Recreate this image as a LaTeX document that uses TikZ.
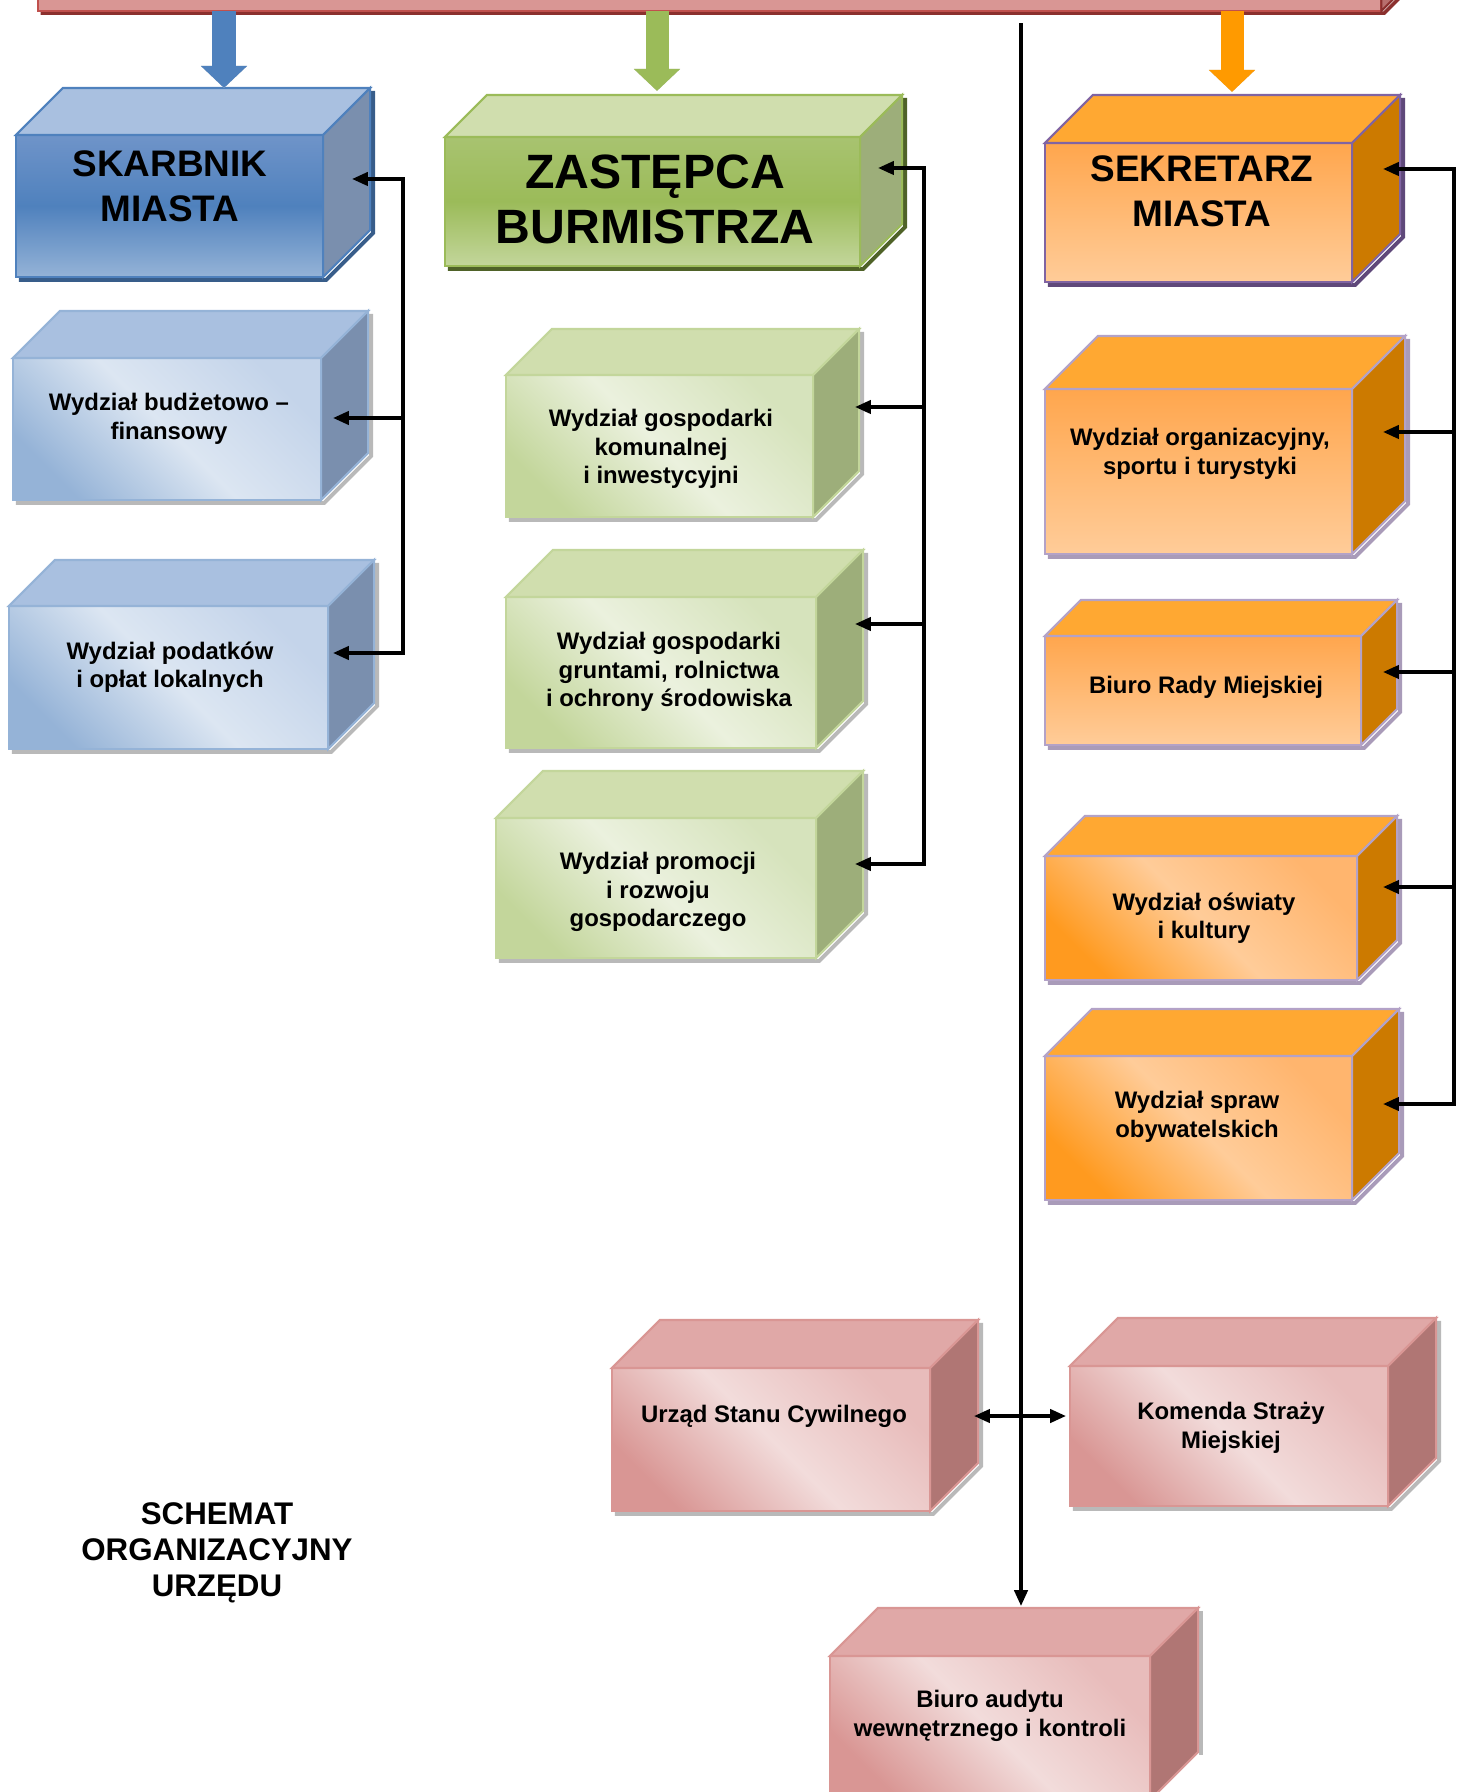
\documentclass[tikz,border=0pt]{standalone}
\usepackage{fontspec}
\setmainfont{Liberation Sans}
\usetikzlibrary{calc,arrows.meta,backgrounds}
\definecolor{redfront}{HTML}{D99694}
\definecolor{redline}{HTML}{C0504D}
\definecolor{reddark}{HTML}{8B302E}
\definecolor{redsidec}{HTML}{B86F6D}
\definecolor{bluemain}{HTML}{4F81BD}
\definecolor{blueup}{HTML}{6F94C9}
\definecolor{bluelight}{HTML}{95B3D7}
\definecolor{bluepale}{HTML}{DCE6F2}
\definecolor{bluecorner}{HTML}{C4D4EA}
\definecolor{bluetopc}{HTML}{A9C0E0}
\definecolor{bluesidec}{HTML}{7A8FAE}
\definecolor{bluedark}{HTML}{385D8A}
\definecolor{greenmain}{HTML}{9BBB59}
\definecolor{greenup}{HTML}{A8C370}
\definecolor{greenlight}{HTML}{C3D69B}
\definecolor{greenpale}{HTML}{EBF1DE}
\definecolor{greencorner}{HTML}{D6E3BC}
\definecolor{greentopc}{HTML}{D0DEAE}
\definecolor{greensidec}{HTML}{9DAE7A}
\definecolor{greendark}{HTML}{4F6228}
\definecolor{orangemain}{HTML}{FF9A00}
\definecolor{orangeup}{HTML}{FFA64D}
\definecolor{orangepale}{HTML}{FFCC99}
\definecolor{orangedeep}{HTML}{FF9A1F}
\definecolor{orangecorner}{HTML}{FFB56E}
\definecolor{orangetopc}{HTML}{FFA832}
\definecolor{orangesidec}{HTML}{CC7A00}
\definecolor{purpleline}{HTML}{8064A2}
\definecolor{lavender}{HTML}{B3A2C7}
\definecolor{purpledark}{HTML}{5F497A}
\definecolor{pinkpale}{HTML}{F2DCDB}
\definecolor{pinkcorner}{HTML}{E8BCBB}
\definecolor{pinktopc}{HTML}{E0A8A7}
\definecolor{pinksidec}{HTML}{B07674}

\begin{document}
\begin{tikzpicture}%
	[x={(0.01cm, 0cm)},
	y={(0cm, -0.01cm)},
	every node/.style={inner sep=0pt, outer sep=0pt},
	redbar/.style={fill=redfront, draw=redline, line width=0.6pt},
	redside/.style={fill=redsidec, draw=reddark, line width=0.6pt},
	redshadow/.style={draw=reddark, line width=1pt},
	bluebig/.style={draw=bluemain, line width=0.6pt, top color=blueup, bottom color=bluelight, middle color=bluemain},
	bluebox/.style={draw=bluelight, line width=0.6pt, top color=bluecorner, bottom color=bluelight, middle color=bluepale, shading angle=-45},
	bluetop/.style={fill=bluetopc, draw=bluelight, line width=0.6pt},
	blueside/.style={fill=bluesidec, draw=bluelight, line width=0.6pt},
	blueshadow/.style={draw=bluedark, line width=1.1pt},
	greenbig/.style={draw=greenmain, line width=0.6pt, top color=greenup, bottom color=greenlight, middle color=greenmain},
	greenbox/.style={draw=greenlight, line width=0.6pt, top color=greencorner, bottom color=greenlight, middle color=greenpale, shading angle=-45},
	greentop/.style={fill=greentopc, draw=greenlight, line width=0.6pt},
	greenside/.style={fill=greensidec, draw=greenlight, line width=0.6pt},
	greenshadow/.style={draw=greendark, line width=1.1pt},
	orangebig/.style={draw=purpleline, line width=0.6pt, top color=orangeup, bottom color=orangepale},
	orangeflat/.style={draw=lavender, line width=0.6pt, top color=orangeup, bottom color=orangepale},
	orangebox/.style={draw=lavender, line width=0.6pt, top color=orangecorner, bottom color=orangedeep, middle color=orangepale, shading angle=-45},
	orangetop/.style={fill=orangetopc, draw=lavender, line width=0.6pt},
	orangeside/.style={fill=orangesidec, draw=lavender, line width=0.6pt},
	orangeshadow/.style={draw=purpledark, line width=1.1pt},
	pinkbox/.style={draw=redfront, line width=0.6pt, top color=pinkcorner, bottom color=redfront, middle color=pinkpale, shading angle=-45},
	pinktop/.style={fill=pinktopc, draw=redfront, line width=0.6pt},
	pinkside/.style={fill=pinksidec, draw=redfront, line width=0.6pt},
	boxshadow/.style={draw=gray!55, line width=1.1pt},
	smalltext/.style={align=center, font=\fontsize{6.8}{8.1}\selectfont\bfseries},
	bigtext/.style={align=center, font=\fontsize{10.5}{12.8}\selectfont\bfseries},
	hugetext/.style={align=center, font=\fontsize{13.7}{15.6}\selectfont\bfseries},
	titletext/.style={align=center, font=\fontsize{8.9}{10.25}\selectfont\bfseries},
	spine/.style={line width=0.9pt, line cap=rect},
	conn/.style={line width=0.9pt, line cap=rect, -{Triangle[length=4.5pt,width=3.8pt]}},
	twoway/.style={line width=0.9pt, {Triangle[length=4.5pt,width=3.8pt]}-{Triangle[length=4.5pt,width=3.8pt]}},
	bigarrow/.style={line width=0.23cm, -{Triangle[length=0.22cm,width=0.45cm]}},
	arrowshade/.style={bigarrow, draw=gray!40, xshift=0.03cm}]
%
\useasboundingbox (0,0) rectangle (1463,1792);
%%
%% Drawing the top bar
%%
\node[redbar, minimum width=13.43cm, minimum height=1.02cm] (bar) at (709.5,-40) {};
\draw[redside] (bar.north east) -- ++(40,-40) -- ($(bar.south east)+(40,-40)$) -- (bar.south east) -- cycle;
%%
%% Drawing the front faces
%%
\node[bluebig, minimum width=3.07cm, minimum height=1.42cm] (skarbnik) at (169.5,206) {};
\node[bluebox, minimum width=3.08cm, minimum height=1.42cm] (budzet) at (167,429) {};
\node[bluebox, minimum width=3.19cm, minimum height=1.43cm] (podatki) at (168.5,677.5) {};
\node[greenbig, minimum width=4.15cm, minimum height=1.29cm] (zastepca) at (652.5,201.5) {};
\node[greenbox, minimum width=3.07cm, minimum height=1.42cm] (komunalna) at (659.5,446) {};
\node[greenbox, minimum width=3.10cm, minimum height=1.51cm] (grunty) at (661,672.5) {};
\node[greenbox, minimum width=3.20cm, minimum height=1.40cm] (promocja) at (656,888) {};
\node[orangebig, minimum width=3.07cm, minimum height=1.39cm] (sekretarz) at (1198.5,212.5) {};
\node[orangeflat, minimum width=3.07cm, minimum height=1.65cm] (organizacja) at (1198.5,471.5) {};
\node[orangeflat, minimum width=3.16cm, minimum height=1.09cm] (rada) at (1203,690.5) {};
\node[orangebox, minimum width=3.12cm, minimum height=1.24cm] (oswiata) at (1201,918) {};
\node[orangebox, minimum width=3.07cm, minimum height=1.44cm] (sprawy) at (1198.5,1128) {};
\node[pinkbox, minimum width=3.18cm, minimum height=1.43cm] (usc) at (771,1439.5) {};
\node[pinkbox, minimum width=3.18cm, minimum height=1.40cm] (komenda) at (1229,1436) {};
\node[pinkbox, minimum width=3.20cm, minimum height=1.44cm] (audyt) at (990,1728) {};
%%
%% Drawing the top and side faces
%%
\draw[bluetop,draw=bluemain] (skarbnik.north west) -- ++(47,-47) -- ($(skarbnik.north east)+(47,-47)$) -- (skarbnik.north east) -- cycle;
\draw[blueside,draw=bluemain] (skarbnik.north east) -- ++(47,-47) -- ($(skarbnik.south east)+(47,-47)$) -- (skarbnik.south east) -- cycle;
\draw[bluetop] (budzet.north west) -- ++(47,-47) -- ($(budzet.north east)+(47,-47)$) -- (budzet.north east) -- cycle;
\draw[blueside] (budzet.north east) -- ++(47,-47) -- ($(budzet.south east)+(47,-47)$) -- (budzet.south east) -- cycle;
\draw[bluetop] (podatki.north west) -- ++(46,-46) -- ($(podatki.north east)+(46,-46)$) -- (podatki.north east) -- cycle;
\draw[blueside] (podatki.north east) -- ++(46,-46) -- ($(podatki.south east)+(46,-46)$) -- (podatki.south east) -- cycle;

\draw[greentop,draw=greenmain] (zastepca.north west) -- ++(42,-42) -- ($(zastepca.north east)+(42,-42)$) -- (zastepca.north east) -- cycle;
\draw[greenside,draw=greenmain] (zastepca.north east) -- ++(42,-42) -- ($(zastepca.south east)+(42,-42)$) -- (zastepca.south east) -- cycle;
\draw[greentop] (komunalna.north west) -- ++(46,-46) -- ($(komunalna.north east)+(46,-46)$) -- (komunalna.north east) -- cycle;
\draw[greenside] (komunalna.north east) -- ++(46,-46) -- ($(komunalna.south east)+(46,-46)$) -- (komunalna.south east) -- cycle;
\draw[greentop] (grunty.north west) -- ++(47,-47) -- ($(grunty.north east)+(47,-47)$) -- (grunty.north east) -- cycle;
\draw[greenside] (grunty.north east) -- ++(47,-47) -- ($(grunty.south east)+(47,-47)$) -- (grunty.south east) -- cycle;
\draw[greentop] (promocja.north west) -- ++(47,-47) -- ($(promocja.north east)+(47,-47)$) -- (promocja.north east) -- cycle;
\draw[greenside] (promocja.north east) -- ++(47,-47) -- ($(promocja.south east)+(47,-47)$) -- (promocja.south east) -- cycle;

\draw[orangetop,draw=purpleline] (sekretarz.north west) -- ++(48,-48) -- ($(sekretarz.north east)+(48,-48)$) -- (sekretarz.north east) -- cycle;
\draw[orangeside,draw=purpleline] (sekretarz.north east) -- ++(48,-48) -- ($(sekretarz.south east)+(48,-48)$) -- (sekretarz.south east) -- cycle;
\draw[orangetop] (organizacja.north west) -- ++(53,-53) -- ($(organizacja.north east)+(53,-53)$) -- (organizacja.north east) -- cycle;
\draw[orangeside] (organizacja.north east) -- ++(53,-53) -- ($(organizacja.south east)+(53,-53)$) -- (organizacja.south east) -- cycle;
\draw[orangetop] (rada.north west) -- ++(36,-36) -- ($(rada.north east)+(36,-36)$) -- (rada.north east) -- cycle;
\draw[orangeside] (rada.north east) -- ++(36,-36) -- ($(rada.south east)+(36,-36)$) -- (rada.south east) -- cycle;
\draw[orangetop] (oswiata.north west) -- ++(40,-40) -- ($(oswiata.north east)+(40,-40)$) -- (oswiata.north east) -- cycle;
\draw[orangeside] (oswiata.north east) -- ++(40,-40) -- ($(oswiata.south east)+(40,-40)$) -- (oswiata.south east) -- cycle;
\draw[orangetop] (sprawy.north west) -- ++(47,-47) -- ($(sprawy.north east)+(47,-47)$) -- (sprawy.north east) -- cycle;
\draw[orangeside] (sprawy.north east) -- ++(47,-47) -- ($(sprawy.south east)+(47,-47)$) -- (sprawy.south east) -- cycle;

\draw[pinktop] (usc.north west) -- ++(48,-48) -- ($(usc.north east)+(48,-48)$) -- (usc.north east) -- cycle;
\draw[pinkside] (usc.north east) -- ++(48,-48) -- ($(usc.south east)+(48,-48)$) -- (usc.south east) -- cycle;
\draw[pinktop] (komenda.north west) -- ++(48,-48) -- ($(komenda.north east)+(48,-48)$) -- (komenda.north east) -- cycle;
\draw[pinkside] (komenda.north east) -- ++(48,-48) -- ($(komenda.south east)+(48,-48)$) -- (komenda.south east) -- cycle;
\draw[pinktop] (audyt.north west) -- ++(48,-48) -- ($(audyt.north east)+(48,-48)$) -- (audyt.north east) -- cycle;
\draw[pinkside] (audyt.north east) -- ++(48,-48) -- ($(audyt.south east)+(48,-48)$) -- (audyt.south east) -- cycle;
%%
%% Drawing the shadows in the back
%%
\begin{scope}[on background layer]
\draw[redshadow] ($(bar.south west)+(3,2)$) -- ($(bar.south east)+(3,2)$) -- ++(40,-40);
\draw[blueshadow] ($(skarbnik.south west)+(3,3)$) -- ($(skarbnik.south east)+(3,3)$) -- ($(skarbnik.south east)+(50,-44)$) -- ($(skarbnik.north east)+(50,-44)$);
\draw[boxshadow] ($(budzet.south west)+(3,3)$) -- ($(budzet.south east)+(3,3)$) -- ($(budzet.south east)+(50,-44)$) -- ($(budzet.north east)+(50,-44)$);
\draw[boxshadow] ($(podatki.south west)+(3,3)$) -- ($(podatki.south east)+(3,3)$) -- ($(podatki.south east)+(49,-43)$) -- ($(podatki.north east)+(49,-43)$);
\draw[greenshadow] ($(zastepca.south west)+(3,3)$) -- ($(zastepca.south east)+(3,3)$) -- ($(zastepca.south east)+(45,-39)$) -- ($(zastepca.north east)+(45,-39)$);
\draw[boxshadow] ($(komunalna.south west)+(3,3)$) -- ($(komunalna.south east)+(3,3)$) -- ($(komunalna.south east)+(49,-43)$) -- ($(komunalna.north east)+(49,-43)$);
\draw[boxshadow] ($(grunty.south west)+(3,3)$) -- ($(grunty.south east)+(3,3)$) -- ($(grunty.south east)+(50,-44)$) -- ($(grunty.north east)+(50,-44)$);
\draw[boxshadow] ($(promocja.south west)+(3,3)$) -- ($(promocja.south east)+(3,3)$) -- ($(promocja.south east)+(50,-44)$) -- ($(promocja.north east)+(50,-44)$);
\draw[orangeshadow] ($(sekretarz.south west)+(3,3)$) -- ($(sekretarz.south east)+(3,3)$) -- ($(sekretarz.south east)+(51,-45)$) -- ($(sekretarz.north east)+(51,-45)$);
\draw[boxshadow,draw=lavender!80!gray] ($(organizacja.south west)+(3,3)$) -- ($(organizacja.south east)+(3,3)$) -- ($(organizacja.south east)+(56,-50)$) -- ($(organizacja.north east)+(56,-50)$);
\draw[boxshadow,draw=lavender!80!gray] ($(rada.south west)+(3,3)$) -- ($(rada.south east)+(3,3)$) -- ($(rada.south east)+(39,-33)$) -- ($(rada.north east)+(39,-33)$);
\draw[boxshadow,draw=lavender!80!gray] ($(oswiata.south west)+(3,3)$) -- ($(oswiata.south east)+(3,3)$) -- ($(oswiata.south east)+(43,-37)$) -- ($(oswiata.north east)+(43,-37)$);
\draw[boxshadow,draw=lavender!80!gray] ($(sprawy.south west)+(3,3)$) -- ($(sprawy.south east)+(3,3)$) -- ($(sprawy.south east)+(50,-44)$) -- ($(sprawy.north east)+(50,-44)$);
\draw[boxshadow] ($(usc.south west)+(3,3)$) -- ($(usc.south east)+(3,3)$) -- ($(usc.south east)+(51,-45)$) -- ($(usc.north east)+(51,-45)$);
\draw[boxshadow] ($(komenda.south west)+(3,3)$) -- ($(komenda.south east)+(3,3)$) -- ($(komenda.south east)+(51,-45)$) -- ($(komenda.north east)+(51,-45)$);
\draw[boxshadow] ($(audyt.north east)+(51,-45)$) -- ($(audyt.south east)+(51,-45)$);
\end{scope}
%%
%% Drawing the texts
%%
\node[bigtext] (skarbnik-t) at (170,186) {SKARBNIK\\MIASTA};
\node[smalltext] (budzet-t) at (169,419) {Wydział budżetowo –\\finansowy};
\node[smalltext] (podatki-t) at (170,667) {Wydział podatków\\i opłat lokalnych};
\node[hugetext] (zastepca-t) at (655,199) {ZASTĘPCA\\BURMISTRZA};
\node[smalltext] (komunalna-t) at (661,449) {Wydział gospodarki\\komunalnej\\i inwestycyjni};
\node[smalltext] (grunty-t) at (669,672) {Wydział gospodarki\\gruntami, rolnictwa\\i ochrony środowiska};
\node[smalltext] (promocja-t) at (658,892) {Wydział promocji\\i rozwoju\\gospodarczego};
\node[bigtext] (sekretarz-t) at (1202,191) {SEKRETARZ\\MIASTA};
\node[smalltext] (organizacja-t) at (1200,454) {Wydział organizacyjny,\\sportu i turystyki};
\node[smalltext] (rada-t) at (1206,687) {Biuro Rady Miejskiej};
\node[smalltext] (oswiata-t) at (1204,918) {Wydział oświaty\\i kultury};
\node[smalltext] (sprawy-t) at (1197,1117) {Wydział spraw\\obywatelskich};
\node[smalltext] (usc-t) at (774,1416) {Urząd Stanu Cywilnego};
\node[smalltext] (komenda-t) at (1231,1428) {Komenda Straży\\Miejskiej};
\node[smalltext] (audyt-t) at (990,1716) {Biuro audytu\\wewnętrznego i kontroli};
\node[titletext] (title) at (217,1553) {SCHEMAT\\ORGANIZACYJNY\\URZĘDU};
%%
%% Drawing the big arrows from the bar
%%
\coordinate (bluein) at (224,11);
\coordinate (greenin) at (657,11);
\coordinate (orangein) at (1232,11);
\draw[arrowshade] (bluein) -- ($(bluein |- skarbnik.north)+(0,-47)$);
\draw[bigarrow,draw=bluemain] (bluein) -- ($(bluein |- skarbnik.north)+(0,-47)$);
\draw[arrowshade] (greenin) -- ($(greenin |- zastepca.north)+(0,-46)$);
\draw[bigarrow,draw=greenmain] (greenin) -- ($(greenin |- zastepca.north)+(0,-46)$);
\draw[arrowshade] (orangein) -- ($(orangein |- sekretarz.north)+(0,-51)$);
\draw[bigarrow,draw=orangemain] (orangein) -- ($(orangein |- sekretarz.north)+(0,-51)$);
%%
%% Drawing the connectors
%%
\coordinate (bluespine1) at (403,179);
\coordinate (bluespine2) at (403,418);
\coordinate (bluespine3) at (403,653);
\draw[spine] (bluespine1) -- (bluespine3);
\draw[conn] (bluespine1) -- ($(skarbnik.east |- bluespine1)+(29,0)$);
\draw[conn] (bluespine2) -- ($(budzet.east |- bluespine2)+(12,0)$);
\draw[conn] (bluespine3) -- ($(podatki.east |- bluespine3)+(5,0)$);

\coordinate (greenspine1) at (924,168);
\coordinate (greenspine2) at (924,407);
\coordinate (greenspine3) at (924,624);
\coordinate (greenspine4) at (924,864);
\draw[spine] (greenspine1) -- (greenspine4);
\draw[conn] (greenspine1) -- ($(zastepca.east |- greenspine1)+(18,0)$);
\draw[conn] (greenspine2) -- ($(komunalna.east |- greenspine2)+(42,0)$);
\draw[conn] (greenspine3) -- ($(grunty.east |- greenspine3)+(39,0)$);
\draw[conn] (greenspine4) -- ($(promocja.east |- greenspine4)+(39,0)$);

\coordinate (orangespine1) at (1454,169);
\coordinate (orangespine2) at (1454,432);
\coordinate (orangespine3) at (1454,672);
\coordinate (orangespine4) at (1454,887);
\coordinate (orangespine5) at (1454,1104);
\draw[spine] (orangespine1) -- (orangespine5);
\draw[conn] (orangespine1) -- ($(sekretarz.east |- orangespine1)+(31,0)$);
\draw[conn] (orangespine2) -- ($(organizacja.east |- orangespine2)+(31,0)$);
\draw[conn] (orangespine3) -- ($(rada.east |- orangespine3)+(22,0)$);
\draw[conn] (orangespine4) -- ($(oswiata.east |- orangespine4)+(26,0)$);
\draw[conn] (orangespine5) -- ($(sprawy.east |- orangespine5)+(31,0)$);

\coordinate (mainspine) at (1021,25);
\coordinate (crossing) at (1021,1416);
\draw[conn] (mainspine) -- ($(mainspine |- audyt.north)+(0,-50)$);
\draw[twoway] ($(usc.east |- crossing)+(44,0)$) -- ($(komenda.west |- crossing)+(-4,0)$);

\end{tikzpicture}
\end{document}
